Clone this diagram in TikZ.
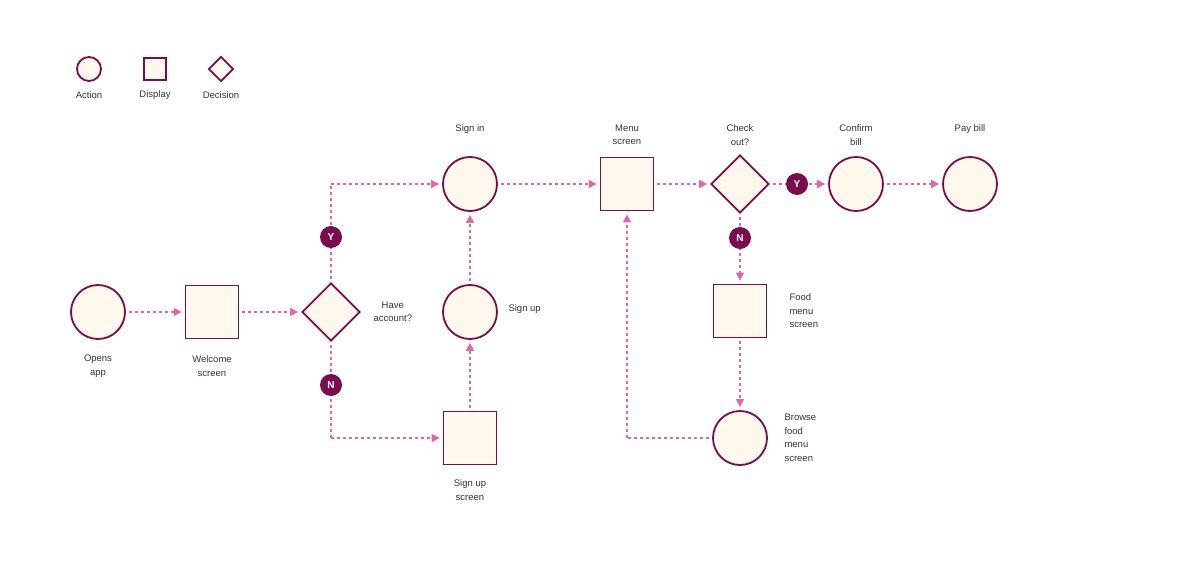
\documentclass[tikz,border=0pt]{standalone}
\usepackage{fontspec}
\setmainfont{Liberation Sans}
\usetikzlibrary{shapes.geometric,arrows.meta}
\definecolor{pk}{HTML}{E065AE}
\definecolor{mr}{HTML}{7A0B4C}
\definecolor{cr}{HTML}{FFF8EC}
\begin{document}
\begin{tikzpicture}[x=1pt,y=-1pt,
 act/.style={circle,draw=mr,fill=cr,line width=1.8pt,minimum size=54pt,inner sep=0pt},
 disp/.style={rectangle,draw=mr,fill=cr,line width=1.8pt,minimum size=53pt,inner sep=0pt},
 dec/.style={diamond,draw=mr,fill=cr,line width=1.8pt,minimum size=58pt,inner sep=0pt},
 badge/.style={circle,fill=mr,text=white,font=\fontsize{10}{10}\selectfont\bfseries,minimum size=22pt,inner sep=0pt},
 lbl/.style={font=\fontsize{9.5}{13.5}\selectfont,text=black!80,align=center},
 flow/.style={pk,line width=1.3pt,dash pattern=on 3pt off 3pt,-{Triangle[length=8pt,width=8pt]},shorten >=3pt,shorten <=3pt},
 line/.style={pk,line width=1.3pt,dash pattern=on 3pt off 3pt}]
\useasboundingbox (0,0) rectangle (1200,581);
% legend
\node[act,minimum size=24pt] (la) at (89,69) {};
\node[disp,minimum size=22pt] (ld) at (155,69) {};
\node[dec,minimum size=25pt] (lc) at (221,69) {};
\node[lbl] (lat) at (89,95) {Action};
\node[lbl] (ldt) at (155,95) {Display};
\node[lbl] (lct) at (221,95) {Decision};
% nodes
\node[act] (open) at (98,312) {};
\node[disp] (wel) at (212,312) {};
\node[dec] (have) at (331,312) {};
\node[act] (signin) at (470,184) {};
\node[act] (signup) at (470,312) {};
\node[disp] (sus) at (470,438) {};
\node[disp] (menu) at (627,184) {};
\node[dec] (check) at (740,184) {};
\node[act] (conf) at (856,184) {};
\node[act] (pay) at (970,184) {};
\node[disp] (food) at (740,311) {};
\node[act] (browse) at (740,438) {};
\coordinate (c1) at (331,184);
\coordinate (c2) at (331,438);
\coordinate (c3) at (627,438);
% labels
\node[lbl] (t1) at (98,366) {Opens\\app};
\node[lbl] (t2) at (212,366) {Welcome\\screen};
\node[lbl,anchor=west] (t3) at (370,312) {Have\\account?};
\node[lbl] (t4) at (470,129) {Sign in};
\node[lbl,anchor=west] (t5) at (505,309) {Sign up};
\node[lbl] (t6) at (470,490) {Sign up\\screen};
\node[lbl] (t7) at (627,135) {Menu\\screen};
\node[lbl] (t8) at (740,135) {Check\\out?};
\node[lbl] (t9) at (856,135) {Confirm\\bill};
\node[lbl] (t10) at (970,129) {Pay bill};
\node[lbl,anchor=west,align=left] (t11) at (786,311) {Food\\menu\\screen};
\node[lbl,anchor=west,align=left] (t12) at (781,438) {Browse\\food\\menu\\screen};
% edges
\draw[flow] (open) -- (wel);
\draw[flow] (wel) -- (have);
\draw[line,shorten <=3pt] (have.north) -- (c1);
\draw[flow,shorten <=0pt] (c1) -- (signin);
\draw[line,shorten <=3pt] (have.south) -- (c2);
\draw[flow,shorten <=0pt] (c2) -- (sus);
\draw[flow] (sus) -- (signup);
\draw[flow] (signup) -- (signin);
\draw[flow] (signin) -- (menu);
\draw[flow] (menu) -- (check);
\draw[flow] (check) -- (conf);
\draw[flow] (conf) -- (pay);
\draw[flow] (check) -- (food);
\draw[flow] (food) -- (browse);
\draw[line,shorten <=3pt] (browse.west) -- (c3);
\draw[flow,shorten <=0pt] (c3) -- (menu);
% badges
\node[badge] (by1) at (331,237) {Y};
\node[badge] (bn1) at (331,385) {N};
\node[badge] (by2) at (797,184) {Y};
\node[badge] (bn2) at (740,238) {N};
\end{tikzpicture}
\end{document}
